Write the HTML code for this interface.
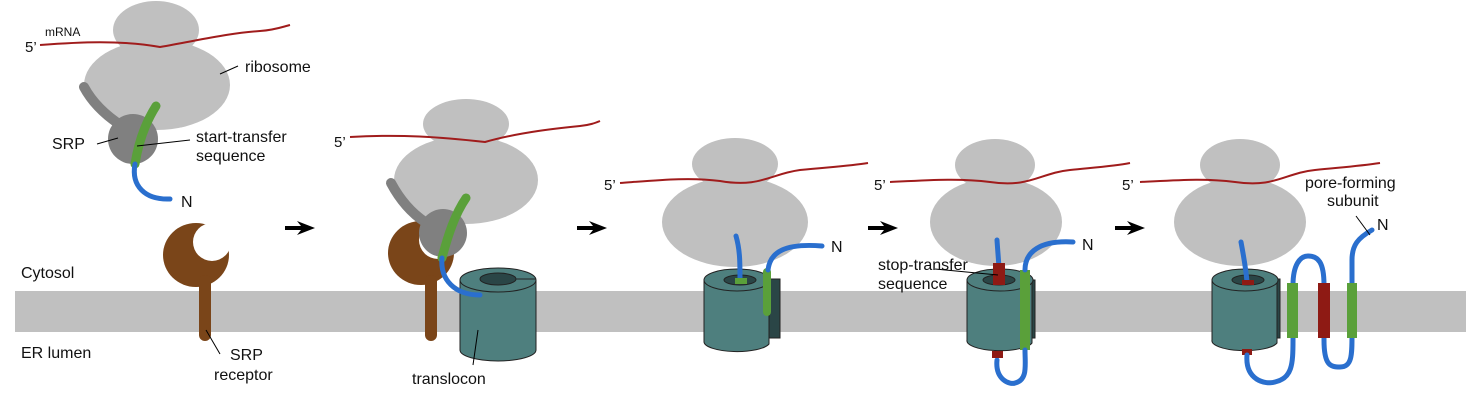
<!DOCTYPE html>
<html><head><meta charset="utf-8"><style>
html,body{margin:0;padding:0;background:#fff;}
svg{display:block;}
text{font-family:"Liberation Sans",sans-serif;fill:#111;}
</style></head><body>
<svg width="1480" height="400" viewBox="0 0 1480 400">
<defs>
<g id="arrow"><path d="M0,-2 L16,-2 L12,-7 L30,0 L12,7 L16,2 L0,2 Z" fill="#000"/></g>
<mask id="cup1"><rect x="0" y="0" width="1480" height="400" fill="#fff"/><circle cx="212" cy="242" r="19" fill="#000"/></mask>
<mask id="cup2"><rect x="0" y="0" width="1480" height="400" fill="#fff"/><circle cx="438" cy="240" r="19" fill="#000"/></mask>
</defs>
<rect x="15" y="291" width="1451" height="41" fill="#c0c0c0"/>
<text x="21" y="278" font-size="16">Cytosol</text>
<text x="21" y="358" font-size="16">ER lumen</text>

<use href="#arrow" x="285" y="228"/>
<use href="#arrow" x="577" y="228"/>
<use href="#arrow" x="868" y="228"/>
<use href="#arrow" x="1115" y="228"/>

<g>
<ellipse cx="156" cy="30" rx="43" ry="29" fill="#c0c0c0"/>
<ellipse cx="157" cy="85" rx="73" ry="45" fill="#c0c0c0"/>
<path d="M40,45 C80,42 120,40 160,47 C200,40 230,33 260,31 C275,30 282,27 290,25" stroke="#a01c1c" stroke-width="2" fill="none"/>
<text x="25" y="52" font-size="15">5’</text>
<text x="45" y="36" font-size="12">mRNA</text>
<line x1="220" y1="74" x2="238" y2="66" stroke="#000" stroke-width="1"/>
<text x="245" y="72" font-size="16">ribosome</text>
<path d="M84,87 C92,102 105,115 122,126" stroke="#808080" stroke-width="10" stroke-linecap="round" fill="none"/>
<circle cx="133" cy="139" r="25" fill="#808080"/>
<path d="M156,106 C144,125 138,145 135,164" stroke="#5aa03a" stroke-width="9" stroke-linecap="round" fill="none"/>
<path d="M135,164 C131,186 145,200 170,199" stroke="#2a6fce" stroke-width="5" stroke-linecap="round" fill="none"/>
<text x="181" y="207" font-size="16">N</text>
<text x="52" y="149" font-size="16">SRP</text>
<line x1="97" y1="144" x2="118" y2="138" stroke="#000"/>
<line x1="137" y1="146" x2="190" y2="140" stroke="#000"/>
<text x="196" y="142" font-size="16">start-transfer</text>
<text x="196" y="161" font-size="16">sequence</text>
<ellipse cx="196" cy="255" rx="33" ry="32" fill="#7a4519" mask="url(#cup1)"/>
<rect x="199" y="275" width="12" height="66" rx="6" fill="#7a4519"/>
<line x1="206" y1="330" x2="220" y2="354" stroke="#000"/>
<text x="230" y="360" font-size="16">SRP</text>
<text x="214" y="380" font-size="16">receptor</text>
</g>

<g>
<ellipse cx="466" cy="124" rx="43" ry="25" fill="#c0c0c0"/>
<ellipse cx="466" cy="180" rx="72" ry="44" fill="#c0c0c0"/>
<path d="M350,137 C400,134 440,137 485,142 C520,132 560,128 580,126 C590,125 595,123 600,121" stroke="#a01c1c" stroke-width="2" fill="none"/>
<text x="334" y="147" font-size="15">5’</text>
<ellipse cx="421" cy="253" rx="33" ry="32" fill="#7a4519" mask="url(#cup2)"/>
<rect x="425" y="275" width="12" height="66" rx="6" fill="#7a4519"/>
<path d="M391,183 C399,198 410,212 425,222" stroke="#808080" stroke-width="10" stroke-linecap="round" fill="none"/>
<circle cx="443" cy="233" r="24" fill="#808080"/>
<path d="M466,198 C455,214 448,235 442,258" stroke="#5aa03a" stroke-width="9" stroke-linecap="round" fill="none"/>
<path d="M460,280 L460,350 A38,11 0 0 0 536,350 L536,280" fill="#4e7f7e" stroke="#222"/>
<ellipse cx="498" cy="280" rx="38" ry="12" fill="#4e7f7e" stroke="#222"/>
<ellipse cx="498" cy="279" rx="18" ry="6" fill="#2a4546" stroke="#222"/>
<line x1="516" y1="279" x2="536" y2="279" stroke="#222"/>
<path d="M442,258 C440,280 455,295 480,295" stroke="#2a6fce" stroke-width="5" stroke-linecap="round" fill="none"/>
<line x1="478" y1="330" x2="473" y2="365" stroke="#000"/>
<text x="412" y="384" font-size="16">translocon</text>
</g>

<g>
<ellipse cx="735" cy="164" rx="43" ry="26" fill="#c0c0c0"/>
<ellipse cx="735" cy="222" rx="73" ry="45" fill="#c0c0c0"/>
<path d="M620,183 C660,180 690,177 720,181 C760,188 770,174 800,170 C830,167 850,166 868,163" stroke="#a01c1c" stroke-width="2" fill="none"/>
<text x="604" y="190" font-size="15">5’</text>
<path d="M769,279 L769,338 L780,338 L780,279 Z" fill="#2a4546" stroke="#222"/>
<path d="M704,280 L704,342 A33,10 0 0 0 769,344 L769,280" fill="#4e7f7e" stroke="#222"/>
<ellipse cx="737" cy="280" rx="33" ry="11" fill="#4e7f7e" stroke="#222"/>
<ellipse cx="740" cy="280" rx="16" ry="5" fill="#2a4546" stroke="#222"/>
<path d="M736,236 C740,250 740,262 740,281" stroke="#2a6fce" stroke-width="5" stroke-linecap="round" fill="none"/>
<rect x="735" y="278" width="12" height="6" fill="#5aa03a"/>
<path d="M767,272 L767,312" stroke="#5aa03a" stroke-width="8" fill="none" stroke-linecap="round"/>
<path d="M768,270 C770,252 785,243 822,246" stroke="#2a6fce" stroke-width="5" stroke-linecap="round" fill="none"/>
<text x="831" y="252" font-size="16">N</text>
</g>

<g>
<ellipse cx="995" cy="165" rx="40" ry="26" fill="#c0c0c0"/>
<ellipse cx="996" cy="222" rx="66" ry="44" fill="#c0c0c0"/>
<path d="M890,182 C930,180 960,178 990,182 C1030,188 1040,173 1070,170 C1100,167 1115,166 1130,163" stroke="#a01c1c" stroke-width="2" fill="none"/>
<text x="874" y="190" font-size="15">5’</text>
<path d="M1032,280 L1032,338 L1035,338 L1035,280 Z" fill="#2a4546" stroke="#222"/>
<path d="M967,280 L967,340 A33,10 0 0 0 1032,343 L1032,280" fill="#4e7f7e" stroke="#222"/>
<ellipse cx="1000" cy="280" rx="33" ry="11" fill="#4e7f7e" stroke="#222"/>
<ellipse cx="999" cy="280" rx="16" ry="5" fill="#2a4546" stroke="#222"/>
<path d="M997,240 C998,255 999,265 999,270" stroke="#2a6fce" stroke-width="5" stroke-linecap="round" fill="none"/>
<rect x="993" y="263" width="12" height="22" fill="#8e1a14"/>
<rect x="1020" y="270" width="10" height="80" fill="#5aa03a"/>
<path d="M1025,270 C1025,252 1040,240 1073,242" stroke="#2a6fce" stroke-width="5" stroke-linecap="round" fill="none"/>
<text x="1082" y="250" font-size="16">N</text>
<path d="M997,360 C995,380 1010,385 1015,383 C1028,380 1025,365 1025,350" stroke="#2a6fce" stroke-width="5" stroke-linecap="round" fill="none"/>
<rect x="992" y="351" width="11" height="7" fill="#8e1a14"/>
<line x1="935" y1="269" x2="998" y2="275" stroke="#000"/>
<text x="878" y="270" font-size="16">stop-transfer</text>
<text x="878" y="289" font-size="16">sequence</text>
</g>

<g>
<ellipse cx="1240" cy="165" rx="40" ry="26" fill="#c0c0c0"/>
<ellipse cx="1240" cy="222" rx="66" ry="44" fill="#c0c0c0"/>
<path d="M1140,182 C1180,180 1205,178 1235,182 C1275,188 1285,173 1315,170 C1345,167 1360,166 1380,163" stroke="#a01c1c" stroke-width="2" fill="none"/>
<text x="1122" y="190" font-size="15">5’</text>
<path d="M1280,279 L1280,338 L1269,338 L1269,279 Z" fill="#2a4546" stroke="#222"/>
<path d="M1212,280 L1212,340 A33,10 0 0 0 1277,343 L1277,280" fill="#4e7f7e" stroke="#222"/>
<ellipse cx="1245" cy="280" rx="33" ry="11" fill="#4e7f7e" stroke="#222"/>
<ellipse cx="1248" cy="280" rx="16" ry="5" fill="#2a4546" stroke="#222"/>
<path d="M1241,242 C1244,258 1246,270 1247,282" stroke="#2a6fce" stroke-width="5" stroke-linecap="round" fill="none"/>
<rect x="1242" y="280" width="12" height="5" fill="#8e1a14"/>
<rect x="1242" y="349" width="10" height="6" fill="#8e1a14"/>
<path d="M1247,355 C1245,380 1265,385 1275,382 C1292,378 1293,365 1293,340 L1293,285 C1293,265 1300,256 1308,256 C1318,256 1324,262 1324,285 L1324,340 C1324,365 1330,367 1340,367 C1352,367 1352,355 1352,335 L1352,260 C1352,245 1358,238 1372,230" stroke="#2a6fce" stroke-width="5" stroke-linecap="round" fill="none"/>
<rect x="1287" y="283" width="11" height="55" fill="#5aa03a"/>
<rect x="1318" y="283" width="12" height="55" fill="#8e1a14"/>
<rect x="1347" y="283" width="10" height="55" fill="#5aa03a"/>
<line x1="1356" y1="216" x2="1370" y2="235" stroke="#000"/>
<text x="1305" y="188" font-size="16">pore-forming</text>
<text x="1327" y="206" font-size="16">subunit</text>
<text x="1377" y="230" font-size="16">N</text>
</g>
</svg>
</body></html>
